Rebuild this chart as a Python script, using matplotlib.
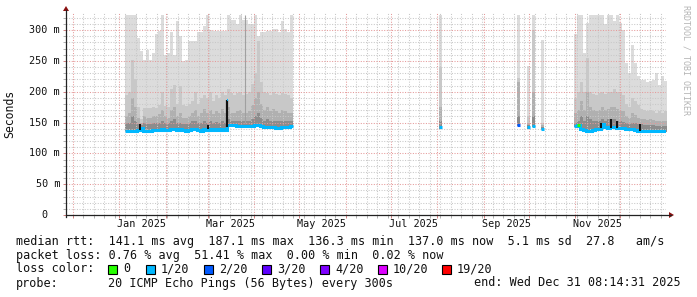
# -*- coding: utf-8 -*-
import numpy as np
import matplotlib
matplotlib.use('Agg')
import matplotlib.pyplot as plt
import matplotlib.dates as mdates
from matplotlib.lines import Line2D
from matplotlib.patches import Polygon, Rectangle
from datetime import datetime, timedelta

# smoke, 2-day buckets, values in ms (max / upper bands / median)
a_start = '2025-01-05'
a_max = [325, 325, 325, 325, 287, 266, 252, 268, 252, 263, 293, 298, 325, 260, 263, 296,
         260, 315, 291, 250, 252, 282, 282, 282, 296, 296, 306, 325, 300, 298, 298, 298,
         298, 298, 325, 317, 317, 310, 325, 317, 317, 309, 309, 325, 290, 296, 296, 298,
         298, 301, 301, 296, 315, 301, 296, 325]
a_hi = [195, 200, 252, 220, 175, 155, 174, 174, 173, 175, 174, 178, 200, 176, 175, 205,
        211, 180, 210, 178, 176, 180, 185, 200, 180, 190, 195, 190, 200, 185, 195, 190,
        200, 195, 205, 198, 195, 198, 200, 195, 196, 200, 212, 230, 282, 215, 200, 198,
        195, 200, 196, 195, 198, 196, 195, 190]
a_mid = [160, 165, 190, 175, 158, 150, 160, 158, 158, 160, 160, 163, 170, 160, 158, 170,
         175, 160, 165, 158, 158, 160, 165, 170, 160, 165, 172, 165, 170, 163, 168, 165,
         172, 165, 175, 165, 165, 168, 170, 165, 165, 168, 178, 190, 200, 180, 170, 175,
         168, 172, 168, 166, 170, 168, 165, 165]
a_lo = [150, 150, 160, 152, 148, 146, 150, 148, 148, 149, 150, 150, 152, 150, 149, 152,
        155, 150, 150, 148, 148, 150, 152, 152, 150, 150, 152, 150, 152, 150, 151, 150,
        152, 150, 155, 152, 152, 153, 153, 152, 152, 153, 155, 160, 165, 158, 153, 155,
        152, 153, 152, 152, 153, 152, 152, 152]
a_med = [136, 137, 137, 137, 138, 141, 137, 137, 137, 138, 138, 138, 139, 138, 138, 139,
         140, 138, 139, 138, 137, 138, 139, 140, 138, 137, 139, 138, 140, 138, 139, 138,
         139, 138, 146, 146, 146, 145, 145, 145, 145, 145, 145, 146, 146, 144, 143, 142,
         142, 142, 141, 141, 142, 142, 143, 145]

b_start = '2025-10-31'
b_max = [293, 325, 325, 263, 312, 325, 325, 325, 325, 325, 309, 325, 325, 315, 325, 311,
         300, 246, 230, 275, 246, 225, 219, 219, 215, 217, 219, 230, 211, 226, 217]
b_hi = [190, 200, 215, 200, 255, 200, 196, 195, 198, 200, 196, 200, 200, 205, 200, 198,
        195, 180, 175, 190, 185, 178, 172, 170, 168, 170, 168, 166, 168, 166, 168]
b_mid = [165, 170, 185, 170, 200, 175, 170, 168, 170, 175, 170, 172, 175, 175, 172, 170,
         168, 160, 158, 165, 162, 158, 156, 155, 154, 155, 154, 153, 153, 152, 153]
b_lo = [150, 152, 160, 152, 160, 155, 152, 152, 153, 155, 153, 155, 156, 155, 153, 152,
        151, 150, 148, 150, 149, 148, 147, 146, 146, 146, 146, 145, 145, 145, 145]
b_med = [145, 146, 140, 138, 137, 137, 138, 140, 140, 148, 142, 141, 142, 142, 141, 141,
         141, 140, 139, 139, 138, 137, 137, 137, 137, 136, 137, 137, 137, 137, 137]
b_loss = ['1/20', '0'] + ['1/20'] * 29

spike_days = ['2025-08-02', '2025-09-23', '2025-09-30', '2025-10-03', '2025-10-09']
spike_max = [325, 325, 241, 325, 284]
spike_hi = [240, 222, 160, 300, 150]
spike_mid = [175, 215, 150, 200, 146]
spike_lo = [152, 160, 146, 160, 143]
spike_med = [142, 146, 142, 144, 140]
spike_loss = ['1/20', '2/20', '1/20', '1/20', '1/20']

peak_day = '2025-03-14'
peak_val = 187.1

dark_days = ['2025-01-14', '2025-02-28', '2025-11-17', '2025-11-24', '2025-11-28', '2025-12-13']
dark_bot = [138, 139, 141, 141, 141, 137]
dark_top = [147, 146, 149, 155, 152, 148]

loss_names = ['0', '1/20', '2/20', '3/20', '4/20', '10/20', '19/20']
loss_colors = ['#26ff00', '#00b8ff', '#0059ff', '#5e00ff', '#7e00ff', '#dd00ff', '#ff0000']
loss_col = dict(zip(loss_names, loss_colors))

month_labels = ['Jan 2025', 'Mar 2025', 'May 2025', 'Jul 2025', 'Sep 2025', 'Nov 2025']
y_ticks = [0, 50, 100, 150, 200, 250, 300]

end_time = datetime(2025, 12, 31, 8, 14, 31)
start_time = end_time - timedelta(days=400)

smoke_cols = ['#dcdcdc', '#c8c8c8', '#b0b0b0', '#8c8c8c']
mono = 'DejaVu Sans Mono'

W, H = 697, 297
L, R, T, B = 66, 666, 13, 215
YMAX = 327.6

fig = plt.figure(figsize=(W / 100, H / 100), dpi=100)
ax = fig.add_axes([L / W, 1 - B / H, (R - L) / W, (B - T) / H])


def day(s):
    return mdates.date2num(datetime.strptime(s, '%Y-%m-%d'))


def draw_block(start, bands, med, step=2):
    x = day(start) + step * np.arange(len(med) + 1)
    base = np.array(med, float) - 2
    base = np.append(base, base[-1])
    for vals, c in zip(bands, smoke_cols):
        v = np.append(vals, vals[-1])
        ax.fill_between(x, base, v, step='post', color=c, lw=0, zorder=1)
    m = np.append(med, med[-1])
    ax.step(x, m, where='post', color=loss_col['1/20'], lw=2.2, zorder=4,
            solid_capstyle='butt', solid_joinstyle='miter')
    return x


draw_block(a_start, [a_max, a_hi, a_mid, a_lo], a_med)
xb = draw_block(b_start, [b_max, b_hi, b_mid, b_lo], b_med)
for i, ls in enumerate(b_loss):
    if ls != '1/20':
        ax.hlines(b_med[i], xb[i], xb[i + 1], color=loss_col[ls], lw=2.2, zorder=5)

for i, d in enumerate(spike_days):
    x0 = day(d)
    xs = [x0, x0 + 2]
    for v, c in zip([spike_max[i], spike_hi[i], spike_mid[i], spike_lo[i]], smoke_cols):
        ax.fill_between(xs, spike_med[i] - 2, v, color=c, lw=0, zorder=1)
    ax.hlines(spike_med[i], x0, x0 + 2, color=loss_col[spike_loss[i]], lw=2.2, zorder=4)

# single high median sample
xp = day(peak_day)
ax.vlines(xp, 143, peak_val, color='#111111', lw=1.6, zorder=5)
ax.hlines(peak_val, xp - 0.5, xp + 0.5, color=loss_col['1/20'], lw=1.5, zorder=6)
ax.vlines(day('2025-03-26'), 150, 325, color='#a0a0a0', lw=0.8, zorder=1)

for d, b0, t0 in zip(dark_days, dark_bot, dark_top):
    ax.vlines(day(d) + 1, b0, t0, color='#111111', lw=1.4, zorder=5)

ax.set_xlim(start_time, end_time)
ax.set_ylim(0, YMAX)

# grid
ax.xaxis.set_major_locator(mdates.MonthLocator())
ax.xaxis.set_minor_locator(mdates.WeekdayLocator(byweekday=mdates.SU))
ax.set_yticks(y_ticks)
ax.set_yticks(np.arange(10, 330, 10), minor=True)
ax.set_axisbelow(False)
ax.grid(which='minor', color='#c8c8c8', lw=0.75, linestyle=(0, (1, 1.5)))
ax.grid(which='major', color='#e59a9a', lw=0.75, linestyle=(0, (1, 1.5)))
ax.tick_params(which='both', length=2, width=0.7, labelbottom=False, labelleft=False,
               direction='out')
ax.tick_params(which='major', colors='#d08080')
ax.tick_params(which='minor', colors='#b0b0b0')

for s in ['top', 'right', 'left', 'bottom']:
    ax.spines[s].set_visible(False)

# axes with arrows
axis_col = '#222222'
arrow_col = '#8b1010'
fig.add_artist(Line2D([L / W, 671 / W], [1 - B / H] * 2, color=axis_col, lw=0.9))
fig.add_artist(Line2D([L / W] * 2, [1 - (B + 2) / H, 1 - 10 / H], color=axis_col, lw=0.9))
fig.add_artist(Polygon([[669 / W, 1 - 212 / H], [669 / W, 1 - 218 / H], [674 / W, 1 - B / H]],
                       closed=True, color=arrow_col, lw=0))
fig.add_artist(Polygon([[(L - 3) / W, 1 - 11 / H], [(L + 3) / W, 1 - 11 / H], [L / W, 1 - 6 / H]],
                       closed=True, color=arrow_col, lw=0))

# y labels
for v in y_ticks:
    yp = B - v * (B - T) / YMAX
    txt = '0' if v == 0 else '%d m' % v
    xr = 48 if v == 0 else 60
    fig.text(xr / W, 1 - yp / H, txt, ha='right', va='center', fontsize=7.3,
             family=mono, color='#111111')

# month labels, centred mid-month
for lab in month_labels:
    d = datetime.strptime(lab, '%b %Y') + timedelta(days=15)
    ax.text(mdates.date2num(d), -15, lab, ha='center', va='center', fontsize=7.3,
            family=mono, color='#111111', clip_on=False)

fig.text(10 / W, 1 - 114 / H, 'Seconds', rotation=90, ha='center', va='center',
         fontsize=8.3, family=mono, color='#111111')
fig.text(686 / W, 1 - 60 / H, 'RRDTOOL / TOBI OETIKER', rotation=270, ha='center',
         va='center', fontsize=6, family=mono, color='#b4b4b4')

# legend block
fs = 8.5
fig.text(16 / W, 1 - 241 / H,
         'median rtt:  141.1 ms avg  187.1 ms max  136.3 ms min  137.0 ms now  5.1 ms sd  27.8   am/s',
         ha='left', va='center', fontsize=fs, family=mono, color='#111111')
fig.text(16 / W, 1 - 255 / H,
         'packet loss: 0.76 % avg  51.41 % max  0.00 % min  0.02 % now',
         ha='left', va='center', fontsize=fs, family=mono, color='#111111')
fig.text(16 / W, 1 - 269 / H, 'loss color:', ha='left', va='center', fontsize=fs,
         family=mono, color='#111111')
box_x = [108, 146, 204, 262, 320, 378, 442]
for bx, name, col in zip(box_x, loss_names, loss_colors):
    fig.add_artist(Rectangle((bx / W, 1 - 274 / H), 9 / W, 9 / H, facecolor=col,
                             edgecolor='black', lw=0.8))
    fig.text((bx + 15) / W, 1 - 269 / H, name, ha='left', va='center', fontsize=fs,
             family=mono, color='#111111')
fig.text(16 / W, 1 - 283 / H, 'probe:', ha='left', va='center', fontsize=fs,
         family=mono, color='#111111')
fig.text(108 / W, 1 - 283 / H, '20 ICMP Echo Pings (56 Bytes) every 300s', ha='left',
         va='center', fontsize=fs, family=mono, color='#111111')
fig.text(681 / W, 1 - 283 / H, 'end: Wed Dec 31 08:14:31 2025', ha='right', va='center',
         fontsize=fs, family=mono, color='#111111')

fig.savefig('out.png', dpi=100)
